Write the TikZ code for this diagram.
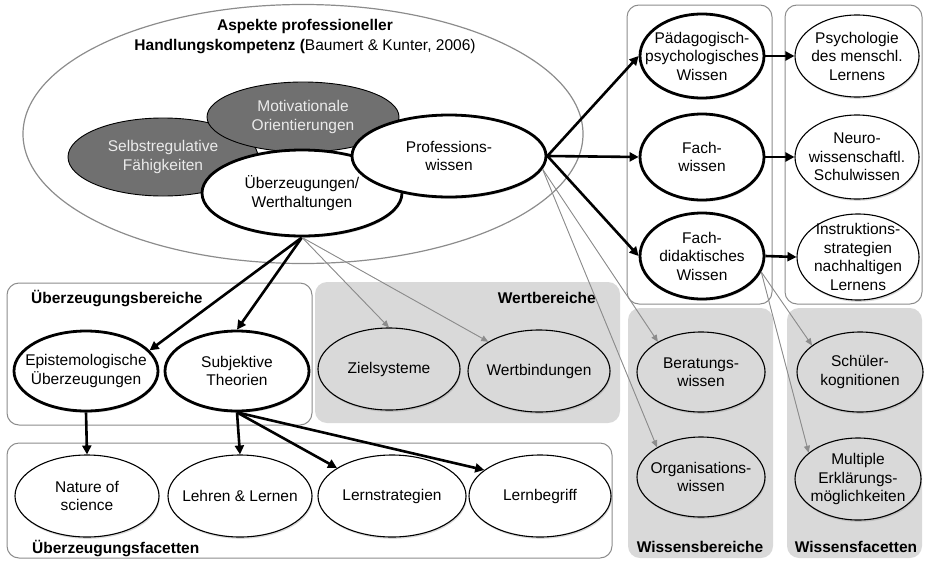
\documentclass[tikz,border=0pt]{standalone}
\usepackage{fontspec}
\setmainfont{Liberation Sans}
\usetikzlibrary{arrows.meta,shapes.geometric,shadows}
\definecolor{boxgray}{RGB}{217,217,217}
\definecolor{linegray}{RGB}{140,140,140}
\definecolor{darkfill}{RGB}{112,112,112}
\definecolor{darktext}{RGB}{235,235,235}
\newcommand{\diagfont}{\fontsize{15.5}{18.5}\selectfont}
\tikzset{
  baseell/.style={ellipse, inner sep=-25pt, align=center},
  esize/.style 2 args={minimum width=#1pt, minimum height=#2pt},
  softshadow/.style={drop shadow={shadow xshift=0.8pt, shadow yshift=-1.8pt, opacity=0.3}},
  thickell/.style={baseell, draw, line width=2.8pt, fill=white, softshadow},
  thinell/.style={baseell, draw, line width=1.1pt, fill=white, softshadow},
  grayell/.style={baseell, draw, line width=1.1pt, fill=boxgray, softshadow},
  darkell/.style={baseell, draw, line width=0.9pt, fill=darkfill, text=darktext},
  areabox/.style={draw=linegray, line width=1pt, rounded corners=12pt},
  graybox/.style={fill=boxgray, rounded corners=12pt},
  boxlabel/.style={font=\diagfont\bfseries, inner sep=0pt},
  arr/.style={-{Triangle[length=9pt,width=9pt]}, line width=2.6pt},
  garr/.style={-{Triangle[length=7pt,width=6pt]}, line width=0.9pt, draw=linegray, fill=linegray},
}

\begin{document}
\begin{tikzpicture}[x=1pt, y=-1pt, font=\diagfont]
  \useasboundingbox (0,0) rectangle (925,562);

  % Bereiche und Facetten
  \draw[areabox] (627,5) rectangle (772,304);
  \draw[areabox] (785,5) rectangle (922,304);
  \draw[areabox, fill=white] (7,283) rectangle (312,425);
  \fill[graybox] (315,282) rectangle (620,423);
  \draw[areabox] (7,443) rectangle (612,558);
  \fill[graybox] (628,308) rectangle (773,558);
  \fill[graybox] (787,308) rectangle (922,558);

  \node[boxlabel, anchor=west] (lblbereiche) at (31,299) {Überzeugungsbereiche};
  \node[boxlabel, anchor=east] (lblwert) at (596,298) {Wertbereiche};
  \node[boxlabel, anchor=west] (lblfacetten) at (32,549) {Überzeugungsfacetten};
  \node[boxlabel] (lblwb) at (700,547) {Wissensbereiche};
  \node[boxlabel] (lblwf) at (856,547) {Wissensfacetten};

  % Handlungskompetenz
  \node[ellipse, draw=linegray, line width=1.2pt, esize={560}{259}] (aspekte) at (303,134) {};
  \node[align=center, font=\fontsize{15.5}{20}\selectfont] (title) at (305,37)
    {\textbf{Aspekte professioneller}\\\textbf{Handlungskompetenz (}Baumert \& Kunter, 2006)};
  \node[darkell, esize={190}{78}] (selbst) at (163,157) {Selbstregulative\\Fähigkeiten};
  \node[darkell, esize={192}{70}] (motiv) at (303,117) {Motivationale\\Orientierungen};
  \node[thickell, esize={200}{86}] (ueberz) at (302,193) {Überzeugungen/\\Werthaltungen};
  \node[thickell, esize={194}{82}] (prof) at (449,156) {Professions-\\wissen};

  % Wissen
  \node[thickell, esize={124}{84}] (paed) at (702,56) {Pädagogisch-\\psychologisches\\Wissen};
  \node[thickell, esize={124}{86}] (fach) at (702,157) {Fach-\\wissen};
  \node[thickell, esize={124}{86}] (fachdid) at (702,256) {Fach-\\didaktisches\\Wissen};
  \node[thinell, esize={124}{82}] (psych) at (857,56) {Psychologie\\des menschl.\\Lernens};
  \node[thinell, esize={124}{84}] (neuro) at (857,157) {Neuro-\\wissenschaftl.\\Schulwissen};
  \node[thinell, esize={122}{86}] (instr) at (858,257) {Instruktions-\\strategien\\nachhaltigen\\Lernens};
  \node[grayell, esize={128}{80}] (berat) at (701,372) {Beratungs-\\wissen};
  \node[grayell, esize={128}{80}] (organ) at (701,477) {Organisations-\\wissen};
  \node[grayell, esize={126}{80}] (schueler) at (860,372) {Schüler-\\kognitionen};
  \node[grayell, esize={126}{82}] (multi) at (858,479) {Multiple\\Erklärungs-\\möglichkeiten};

  % Ueberzeugungen und Werte
  \node[thickell, esize={144}{80}] (episte) at (86,371) {Epistemologische\\Überzeugungen};
  \node[thickell, esize={144}{80}] (subj) at (237,371) {Subjektive\\Theorien};
  \node[grayell, esize={142}{82}] (ziel) at (389,369) {Zielsysteme};
  \node[grayell, esize={142}{82}] (wertb) at (539,371) {Wertbindungen};
  \node[thinell, esize={144}{82}] (nature) at (87,496) {Nature of\\science};
  \node[thinell, esize={144}{82}] (lehren) at (240,496) {Lehren \& Lernen};
  \node[thinell, esize={148}{82}] (lernstr) at (392,496) {Lernstrategien};
  \node[thinell, esize={142}{82}] (lernbeg) at (540,496) {Lernbegriff};

  \foreach \a/\b in {prof.east/paed.west, prof.east/fach.west, prof.east/fachdid.west,
                     paed.east/psych.west, fach.east/neuro.west, fachdid.east/instr.west,
                     ueberz.south/episte.18, ueberz.south/subj.north,
                     episte.south/nature.north, subj.south/lehren.north,
                     subj.south/lernstr.153, subj.south/lernbeg.155} {
    \draw[arr] (\a) -- (\b);
  }
  \foreach \a/\b in {ueberz.south/ziel.north, ueberz.south/wertb.150,
                     prof.-8/berat.145, prof.-8/organ.146,
                     fachdid.-15/schueler.151, fachdid.-15/multi.152} {
    \draw[garr] (\a) -- (\b);
  }
\end{tikzpicture}
\end{document}
